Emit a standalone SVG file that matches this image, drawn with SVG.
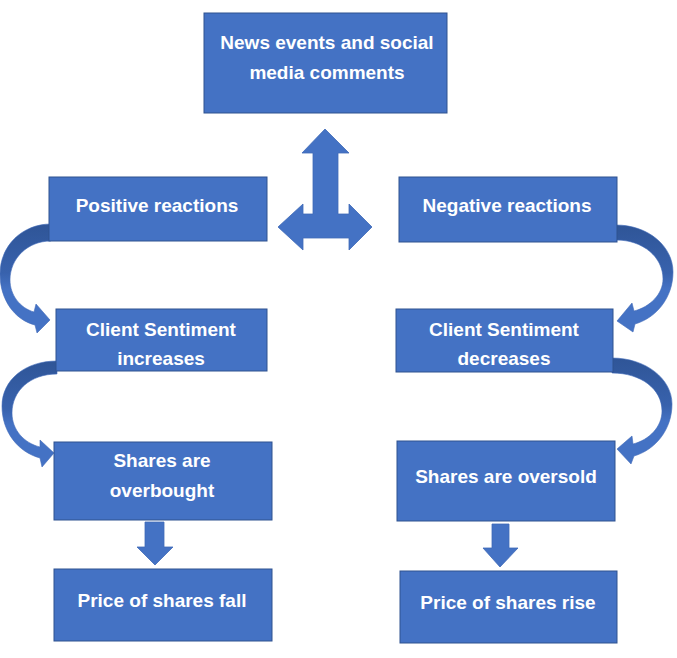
<svg xmlns="http://www.w3.org/2000/svg" width="677" height="658" viewBox="0 0 677 658">
  <defs>
    <style>
      .box { fill: #4472c4; stroke: #2f528f; stroke-width: 1; }
      .lbl { fill: #ffffff; font-family: "Liberation Sans", Arial, sans-serif; font-weight: bold; font-size: 19px; text-anchor: middle; }
      .arw { fill: #4472c4; stroke: #3f6ab8; stroke-width: 0.8; stroke-linejoin: miter; }
      .curve { fill: url(#shade); stroke: #3f6ab8; stroke-width: 0.6; }
    </style>
    <linearGradient id="shade" x1="0" y1="0" x2="0" y2="1">
      <stop offset="0" stop-color="#2f5597"/>
      <stop offset="0.45" stop-color="#3862ad"/>
      <stop offset="0.6" stop-color="#4472c4"/>
      <stop offset="1" stop-color="#4472c4"/>
    </linearGradient>
  </defs>
  <rect width="677" height="658" fill="#ffffff"/>

  <g id="connectors">
    <path class="arw" d="M325,129 L349,153 L338,153 L338,214 L349,214 L349,204 L372,227 L349,250 L349,238 L303,238 L303,250 L278,227 L303,204 L303,214 L313,214 L313,153 L302,153 Z"/>
    <path class="curve" d="M51,224 C 22,224 0,246 0,274 C 0,300 15,320 35,325 L 37,333 L 50,320 L 36,304 L 34,312 C 20,308 10,295 10,280 C 10,258 28,241 51,241 Z"/>
    <path class="curve" d="M57,361 C 25,361 2,380 2,406 C 2,432 18,452 40,458 L 42,467 L 54,453 L 40,440 L 40,447 C 24,443 12,430 12,413 C 12,391 30,374 57,374 Z"/>
    <path class="curve" d="M616,225 C 648,225 673,246 673,272 C 673,298 656,318 635,324 L 633,332 L 617,321 L 632,303 L 634,311 C 650,307 663,294 663,279 C 663,257 643,240 616,240 Z"/>
    <path class="curve" d="M612,358 C 646,358 672,379 672,404 C 672,430 655,450 634,456 L 631,464 L 617,449 L 632,436 L 633,444 C 649,440 662,427 662,411 C 662,389 641,373 612,373 Z"/>
    <path class="arw" d="M145,522 L164,522 L164,547 L173,547 L155,565 L137,547 L145,547 Z"/>
    <path class="arw" d="M492,524 L509,524 L509,548 L518,548 L500,567 L483,548 L492,548 Z"/>
  </g>

  <g id="news">
    <rect class="box" x="204" y="13" width="243" height="100"/>
    <text class="lbl" x="327" y="49">News events and social</text>
    <text class="lbl" x="327" y="79">media comments</text>
  </g>
  <g id="positive">
    <rect class="box" x="49" y="177" width="218" height="64"/>
    <text class="lbl" x="157" y="212">Positive reactions</text>
  </g>
  <g id="negative">
    <rect class="box" x="399" y="177" width="218" height="65"/>
    <text class="lbl" x="507" y="212">Negative reactions</text>
  </g>
  <g id="sentiment-up">
    <rect class="box" x="56" y="309" width="211" height="62"/>
    <text class="lbl" x="161" y="336">Client Sentiment</text>
    <text class="lbl" x="161" y="365">increases</text>
  </g>
  <g id="sentiment-down">
    <rect class="box" x="396" y="309" width="217" height="63"/>
    <text class="lbl" x="504" y="336">Client Sentiment</text>
    <text class="lbl" x="504" y="365">decreases</text>
  </g>
  <g id="overbought">
    <rect class="box" x="54" y="442" width="218" height="78"/>
    <text class="lbl" x="162" y="467">Shares are</text>
    <text class="lbl" x="162" y="497">overbought</text>
  </g>
  <g id="oversold">
    <rect class="box" x="397" y="441" width="218" height="80"/>
    <text class="lbl" x="506" y="483">Shares are oversold</text>
  </g>
  <g id="price-fall">
    <rect class="box" x="54" y="569" width="218" height="72"/>
    <text class="lbl" x="162" y="607">Price of shares fall</text>
  </g>
  <g id="price-rise">
    <rect class="box" x="400" y="571" width="217" height="72"/>
    <text class="lbl" x="508" y="609">Price of shares rise</text>
  </g>
</svg>
